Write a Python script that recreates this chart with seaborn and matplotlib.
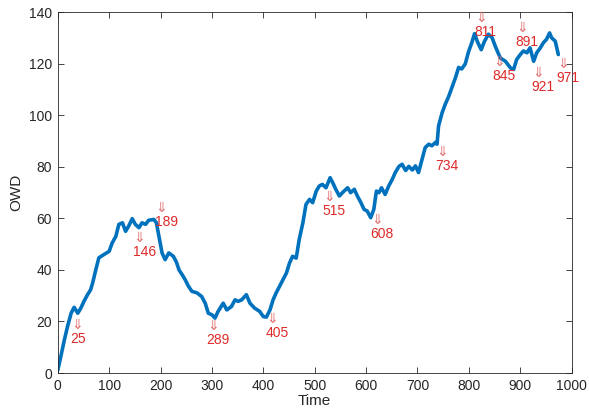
import matplotlib
matplotlib.use("Agg")
import matplotlib.pyplot as plt
import seaborn as sns
import pandas as pd

time = [0, 6, 13, 19, 26, 32, 39, 45, 51, 58, 64, 68, 74, 80, 90, 100, 106, 113, 119, 126,
        132, 138, 145, 151, 158, 164, 171, 177, 187, 192, 197, 203, 209, 216, 225, 231, 236,
        242, 248, 254, 261, 271, 280, 287, 293, 300, 306, 312, 322, 329, 338, 345, 351, 358,
        367, 374, 383, 393, 400, 406, 413, 419, 425, 432, 438, 445, 451, 457, 464, 470, 477,
        483, 490, 496, 503, 509, 515, 522, 530, 535, 541, 548, 554, 564, 570, 577, 583, 590,
        596, 602, 609, 615, 620, 625, 630, 637, 644, 651, 657, 664, 670, 677, 683, 690, 696,
        702, 709, 715, 722, 728, 735, 738, 741, 748, 754, 761, 767, 774, 780, 786, 793, 799,
        806, 811, 817, 824, 830, 838, 845, 852, 861, 871, 881, 887, 893, 900, 906, 913, 919,
        926, 932, 939, 945, 951, 957, 961, 968, 974]
owd = [1, 6.4, 12.9, 18, 23.2, 25.5, 23.2, 25.2, 27.8, 30.4, 32.3, 35, 40, 44.7, 46, 47.2,
       50.5, 53, 57.7, 58.3, 55, 57, 59.9, 57.7, 56.4, 58.3, 57.7, 59.3, 59.6, 58.3, 53, 46.6,
       44, 46.6, 45.3, 43, 40, 38.2, 36.2, 33.8, 31.7, 31.1, 29.7, 27.1, 23.2, 22.6, 21.3,
       23.9, 27.1, 24.5, 25.8, 28.4, 27.8, 28.4, 30.4, 27.1, 25.2, 23.9, 21.9, 21.7, 24.5,
       28.4, 31.1, 33.8, 36.2, 38.8, 42.7, 45.3, 44.6, 52, 58.3, 65.4, 67.4, 66.1, 70.6, 72.6,
       73.2, 71.9, 75.8, 73.9, 71.3, 68.7, 70, 71.9, 70, 71.3, 68.7, 66.1, 63.5, 62.9, 60.3,
       63.5, 70.6, 70, 71.9, 69.3, 72.6, 75.2, 77.9, 80.2, 81, 78.6, 80.2, 78.8, 80.4, 77.8,
       83, 87.5, 88.8, 88.2, 89.5, 88.8, 95.9, 101.1, 104.3, 107.5, 110.8, 114.7, 118.6, 118,
       120, 124.5, 128.4, 131.7, 128.4, 125.5, 128.6, 131.5, 130.2, 126.5, 122.3, 121, 118.4,
       117.8, 121.7, 123.6, 125, 124.3, 126.2, 121, 124.3, 126.2, 128.2, 129.5, 132, 130.1,
       128.8, 123.6]

ann_labels = [25, 146, 189, 289, 405, 515, 608, 734, 811, 845, 891, 921, 971]
ann_num_y = [13.2, 47.0, 58.6, 12.8, 15.5, 62.9, 54.0, 80.4, 132.4, 115.3, 128.5, 111.0, 114.5]

sns.set_style("ticks")
plt.rcParams["font.family"] = ["Liberation Sans", "DejaVu Sans"]

fig = plt.figure(figsize=(5.89, 4.17), dpi=100)
ax = fig.add_axes([0.098, 0.1055, 0.8726, 0.865])

df = pd.DataFrame({"Time": time, "OWD": owd})
sns.lineplot(data=df, x="Time", y="OWD", ax=ax, color="#0072BD", linewidth=2.6)

for lab, yn in zip(ann_labels, ann_num_y):
    ax.text(lab, yn, str(lab), color="#dd2a2a", fontsize=10, ha="left", va="center")
    ax.annotate("\u21d3", xy=(lab, yn), xytext=(0.5, 10), textcoords="offset points",
                color="#e27070", fontsize=10, ha="left", va="center",
                family=["DejaVu Sans"])

ax.set_xlim(0, 1000)
ax.set_ylim(0, 140)
ax.set_xticks(range(0, 1001, 100))
ax.set_yticks(range(0, 141, 20))
ax.set_xlabel("Time", fontsize=11, color="#262626", labelpad=1)
ax.set_ylabel("OWD", fontsize=11, color="#262626", labelpad=4)
ax.tick_params(direction="in", length=4, width=0.6, colors="#262626", labelsize=10,
               top=True, right=True, pad=4)
for s in ax.spines.values():
    s.set_visible(True)
    s.set_color("#262626")
    s.set_linewidth(0.6)

fig.savefig("out.png", dpi=100)
